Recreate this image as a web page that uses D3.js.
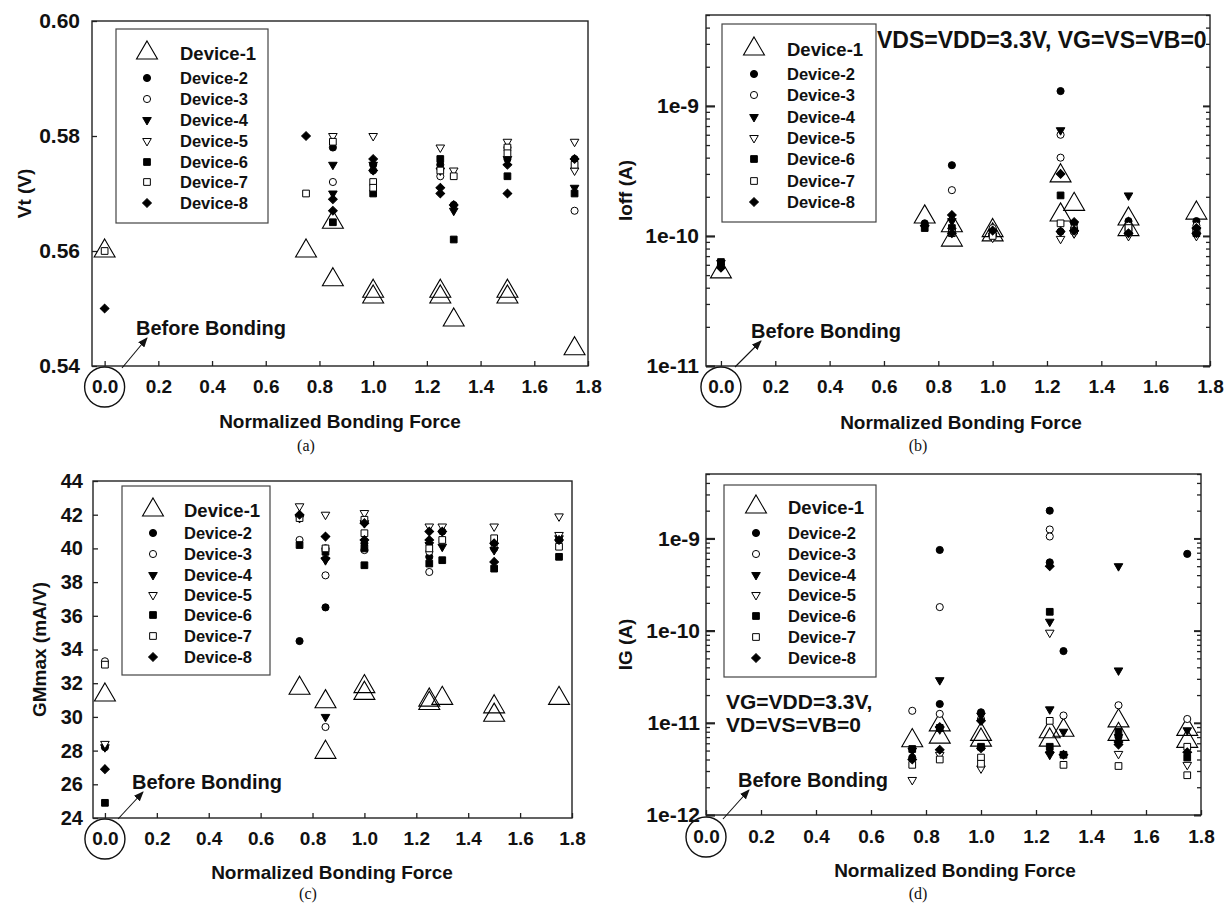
<!DOCTYPE html>
<html>
<head>
<meta charset="utf-8">
<script src="https://cdn.jsdelivr.net/npm/d3@7"></script>
<style>
  body { margin: 0; background: #fff; }
  svg { display: block; }
  text { font-family: "Liberation Sans", Arial, sans-serif; font-weight: bold; fill: #111; }
</style>
</head>
<body>
<svg id="chart" width="1226" height="904"></svg>
<script>
const devices = ['Device-1', 'Device-2', 'Device-3', 'Device-4', 'Device-5', 'Device-6', 'Device-7', 'Device-8']
const xTicks = [0, 0.2, 0.4, 0.6, 0.8, 1.0, 1.2, 1.4, 1.6, 1.8]
const vtTicks = [0.54, 0.56, 0.58, 0.60]
const ioffTicks = [1e-11, 1e-10, 1e-9]
const gmTicks = [24, 26, 28, 30, 32, 34, 36, 38, 40, 42, 44]
const igTicks = [1e-12, 1e-11, 1e-10, 1e-9]

// (a) Vt (V), [normalized bonding force, value]
const vt1 = [[0, 0.560], [0.75, 0.560], [0.85, 0.565], [0.85, 0.555], [1.0, 0.553], [1.0, 0.552], [1.25, 0.553], [1.25, 0.552], [1.3, 0.548], [1.5, 0.553], [1.5, 0.552], [1.75, 0.543]]
const vt2 = [[0.85, 0.578], [1.0, 0.575], [1.25, 0.575], [1.3, 0.568], [1.5, 0.576], [1.75, 0.576]]
const vt3 = [[0.85, 0.572], [1.0, 0.574], [1.25, 0.573], [1.5, 0.578], [1.75, 0.567]]
const vt4 = [[0.85, 0.575], [0.85, 0.570], [1.0, 0.575], [1.25, 0.574], [1.3, 0.567], [1.5, 0.576], [1.75, 0.571]]
const vt5 = [[0.85, 0.580], [1.0, 0.580], [1.25, 0.578], [1.3, 0.574], [1.5, 0.579], [1.75, 0.579], [1.75, 0.574]]
const vt6 = [[0.85, 0.565], [1.0, 0.570], [1.25, 0.576], [1.3, 0.562], [1.5, 0.573], [1.75, 0.570]]
const vt7 = [[0, 0.560], [0.75, 0.570], [0.85, 0.579], [1.0, 0.572], [1.0, 0.571], [1.25, 0.574], [1.3, 0.573], [1.5, 0.578], [1.5, 0.577], [1.75, 0.575]]
const vt8 = [[0, 0.550], [0.75, 0.580], [0.85, 0.569], [0.85, 0.567], [1.0, 0.576], [1.0, 0.574], [1.25, 0.571], [1.25, 0.570], [1.3, 0.568], [1.5, 0.575], [1.5, 0.570], [1.75, 0.576]]

// (b) Ioff (A)
const ioff1 = [[0, 5.3e-11], [0.75, 1.4e-10], [0.85, 1.2e-10], [0.85, 0.93e-10], [1.0, 1.1e-10], [1.0, 1.02e-10], [1.25, 2.9e-10], [1.25, 1.45e-10], [1.3, 1.75e-10], [1.5, 1.35e-10], [1.5, 1.12e-10], [1.75, 1.5e-10]]
const ioff2 = [[0, 5.9e-11], [0.75, 1.25e-10], [0.85, 3.5e-10], [1.0, 1.12e-10], [1.25, 1.3e-9], [1.25, 1.08e-10], [1.3, 1.25e-10], [1.5, 1.3e-10], [1.5, 1.05e-10], [1.75, 1.3e-10]]
const ioff3 = [[0, 6.0e-11], [0.85, 2.25e-10], [1.0, 1.15e-10], [1.25, 6.0e-10], [1.25, 4.0e-10], [1.3, 1.15e-10], [1.5, 1.2e-10], [1.75, 1.2e-10]]
const ioff4 = [[0, 6.2e-11], [0.85, 1.3e-10], [1.0, 1.0e-10], [1.25, 6.5e-10], [1.3, 1.05e-10], [1.5, 2.05e-10], [1.75, 1.1e-10]]
const ioff5 = [[0.85, 1.1e-10], [1.0, 0.97e-10], [1.25, 0.95e-10], [1.3, 1.05e-10], [1.5, 1.0e-10], [1.75, 1.0e-10]]
const ioff6 = [[0, 6.3e-11], [0.75, 1.15e-10], [0.85, 1.15e-10], [1.0, 1.05e-10], [1.25, 2.05e-10], [1.5, 1.1e-10], [1.75, 1.05e-10]]
const ioff7 = [[0.85, 1.05e-10], [1.0, 1.0e-10], [1.25, 1.25e-10], [1.3, 1.1e-10], [1.5, 1.15e-10], [1.75, 1.1e-10]]
const ioff8 = [[0, 5.7e-11], [0.75, 1.2e-10], [0.85, 1.45e-10], [0.85, 1.05e-10], [1.0, 1.1e-10], [1.25, 3.0e-10], [1.25, 1.08e-10], [1.3, 1.28e-10], [1.3, 1.1e-10], [1.5, 1.05e-10], [1.75, 1.15e-10], [1.75, 1.05e-10]]

// (c) GMmax (mA/V)
const gm1 = [[0, 31.3], [0.75, 31.7], [0.85, 30.9], [0.85, 27.9], [1.0, 31.8], [1.0, 31.4], [1.25, 31.0], [1.25, 30.8], [1.3, 31.1], [1.5, 30.6], [1.5, 30.1], [1.75, 31.1]]
const gm2 = [[0, 28.2], [0.75, 34.5], [0.85, 36.5], [0.85, 40.0], [1.0, 40.3], [1.25, 39.5], [1.3, 41.0], [1.5, 40.3], [1.75, 40.5]]
const gm3 = [[0, 33.3], [0.75, 40.5], [0.85, 38.4], [0.85, 29.4], [1.0, 39.9], [1.25, 38.6], [1.25, 39.8], [1.5, 40.0], [1.75, 40.5]]
const gm4 = [[0, 28.2], [0.75, 41.8], [0.85, 39.3], [0.85, 30.0], [1.0, 41.5], [1.25, 40.2], [1.3, 40.1], [1.5, 39.9], [1.75, 40.6]]
const gm5 = [[0, 28.4], [0.75, 42.5], [0.85, 42.0], [1.0, 42.1], [1.25, 41.3], [1.3, 41.3], [1.5, 41.3], [1.75, 41.9], [1.75, 40.8]]
const gm6 = [[0, 24.9], [0.75, 40.2], [0.85, 39.8], [1.0, 40.0], [1.0, 39.0], [1.25, 39.1], [1.3, 39.3], [1.5, 38.8], [1.75, 39.5]]
const gm7 = [[0, 33.1], [0.75, 41.8], [0.85, 40.0], [1.0, 41.7], [1.0, 40.9], [1.25, 40.0], [1.3, 40.5], [1.5, 40.6], [1.75, 40.1]]
const gm8 = [[0, 26.9], [0.75, 42.0], [0.85, 40.7], [0.85, 39.4], [1.0, 41.5], [1.0, 40.5], [1.25, 41.0], [1.25, 40.5], [1.3, 41.0], [1.5, 40.3], [1.5, 39.2], [1.75, 40.5]]

// (d) IG (A)
const ig1 = [[0.75, 6.4e-12], [0.85, 9.5e-12], [0.85, 7.0e-12], [1.0, 7.5e-12], [1.0, 6.5e-12], [1.25, 8.0e-12], [1.25, 6.5e-12], [1.3, 8.3e-12], [1.5, 1.05e-11], [1.5, 7.5e-12], [1.75, 8.5e-12], [1.75, 6.3e-12]]
const ig2 = [[0.75, 4.2e-12], [0.85, 7.5e-10], [0.85, 1.6e-11], [1.0, 1.3e-11], [1.25, 2.0e-9], [1.25, 5.5e-10], [1.3, 6.0e-11], [1.5, 7.0e-12], [1.75, 6.8e-10]]
const ig3 = [[0.75, 1.35e-11], [0.85, 1.8e-10], [0.85, 1.25e-11], [1.0, 1.1e-11], [1.25, 1.25e-9], [1.25, 1.05e-9], [1.3, 1.2e-11], [1.5, 1.55e-11], [1.75, 1.1e-11]]
const ig4 = [[0.75, 5.0e-12], [0.85, 2.9e-11], [0.85, 8.5e-12], [1.0, 1.2e-11], [1.25, 1.25e-10], [1.25, 1.4e-11], [1.25, 4.5e-12], [1.3, 8.0e-12], [1.5, 5.0e-10], [1.5, 3.7e-11], [1.5, 7.0e-12], [1.75, 8.3e-12]]
const ig5 = [[0.75, 2.4e-12], [0.85, 4.5e-12], [1.0, 3.2e-12], [1.25, 9.5e-11], [1.5, 4.6e-12], [1.75, 3.5e-12]]
const ig6 = [[0.75, 5.2e-12], [0.85, 8.8e-12], [1.0, 5.5e-12], [1.25, 1.6e-10], [1.25, 5.5e-12], [1.3, 4.5e-12], [1.5, 8.0e-12], [1.75, 4.2e-12]]
const ig7 = [[0.75, 3.5e-12], [0.85, 4.0e-12], [1.0, 4.2e-12], [1.0, 3.6e-12], [1.25, 1.05e-11], [1.3, 3.5e-12], [1.5, 3.4e-12], [1.75, 5.5e-12], [1.75, 2.7e-12]]
const ig8 = [[0.75, 4.0e-12], [0.85, 5.1e-12], [0.85, 9.0e-12], [1.0, 1.05e-11], [1.0, 5.3e-12], [1.25, 5.0e-10], [1.25, 4.8e-12], [1.3, 4.5e-12], [1.5, 6.2e-12], [1.5, 5.8e-12], [1.75, 4.8e-12]]

// marker style for each device
const markers = [
  { type: d3.symbolTriangle, size: 190, fill: 'none', rot: 0 },
  { type: d3.symbolCircle, size: 40, fill: '#000', rot: 0 },
  { type: d3.symbolCircle, size: 40, fill: '#fff', rot: 0 },
  { type: d3.symbolTriangle, size: 32, fill: '#000', rot: 180 },
  { type: d3.symbolTriangle, size: 32, fill: '#fff', rot: 180 },
  { type: d3.symbolSquare, size: 45, fill: '#000', rot: 0 },
  { type: d3.symbolSquare, size: 45, fill: '#fff', rot: 0 },
  { type: d3.symbolSquare, size: 38, fill: '#000', rot: 45 }
]

const svg = d3.select('#chart')

svg.append('defs').append('marker')
    .attr('id', 'arrow')
    .attr('markerUnits', 'userSpaceOnUse')
    .attr('markerWidth', 10).attr('markerHeight', 8)
    .attr('refX', 9).attr('refY', 4)
    .attr('orient', 'auto')
  .append('path')
    .attr('d', 'M0,0 L10,4 L0,8 Z')
    .attr('fill', '#111')

function styleAxis(sel, size) {
  sel.attr('font-size', null).attr('font-family', null)
  sel.select('.domain').remove()
  sel.selectAll('line').attr('stroke', '#222').attr('stroke-width', 1.3)
  sel.selectAll('text')
    .attr('font-size', size)
    .attr('fill', '#111')
}

const isDecade = v => Math.abs(Math.log10(v) - Math.round(Math.log10(v))) < 1e-6

function drawPanel(p) {
  const g = svg.append('g')
  const [left, right] = p.x.range()
  const [bottom, top] = p.y.range()

  // x axis, ticks pointing inward
  const xa = g.append('g')
    .attr('transform', `translate(0,${bottom})`)
    .call(d3.axisBottom(p.x).tickValues(xTicks).tickSize(-5).tickPadding(p.xPad).tickFormat(d3.format('.1f')))
  styleAxis(xa, 19)

  // y axis
  if (p.log) {
    const minors = p.y.ticks().filter(v => !isDecade(v))
    const fmt = v => '1e' + Math.round(Math.log10(v))
    const ya = g.append('g')
      .attr('transform', `translate(${left},0)`)
      .call(d3.axisLeft(p.y).tickValues(p.yTicks).tickSize(-9).tickPadding(p.yPad).tickFormat(fmt))
    styleAxis(ya, 21)
    ya.selectAll('line').attr('stroke-width', 2.2)
    const ym = g.append('g')
      .attr('transform', `translate(${left},0)`)
      .call(d3.axisLeft(p.y).tickValues(minors).tickSize(-4).tickFormat(''))
    styleAxis(ym, 20)
    const yr = g.append('g')
      .attr('transform', `translate(${right},0)`)
      .call(d3.axisRight(p.y).tickValues(p.yTicks).tickSize(-7).tickFormat(''))
    styleAxis(yr, 20)
    yr.selectAll('line').attr('stroke-width', 2)
    const yrm = g.append('g')
      .attr('transform', `translate(${right},0)`)
      .call(d3.axisRight(p.y).tickValues(minors).tickSize(-4).tickFormat(''))
    styleAxis(yrm, 20)
  } else {
    const ya = g.append('g')
      .attr('transform', `translate(${left},0)`)
      .call(d3.axisLeft(p.y).tickValues(p.yTicks).tickSize(-5).tickPadding(p.yPad).tickFormat(p.yFormat))
    styleAxis(ya, p.yFont || 21)
  }

  // frame
  g.append('rect')
    .attr('x', left).attr('y', top)
    .attr('width', right - left).attr('height', bottom - top)
    .attr('fill', 'none').attr('stroke', '#222').attr('stroke-width', 1.4)

  // points, device-1 first so the small markers sit on top
  p.series.forEach((pts, i) => {
    const m = markers[i]
    g.append('g').selectAll('path')
      .data(pts)
      .join('path')
        .attr('d', d3.symbol(m.type, m.size))
        .attr('transform', d => `translate(${p.x(d[0])},${p.y(d[1])}) rotate(${m.rot})`)
        .attr('fill', m.fill)
        .attr('stroke', '#000')
        .attr('stroke-width', i === 0 ? 1.1 : 1)
  })

  // legend
  const L = p.legend
  g.append('rect')
    .attr('x', L.x).attr('y', L.y).attr('width', L.w).attr('height', L.h)
    .attr('fill', '#fff').attr('stroke', '#444').attr('stroke-width', 1.2)
  devices.forEach((name, i) => {
    const m = markers[i]
    const ry = L.rows[i]
    g.append('path')
      .attr('d', d3.symbol(m.type, m.size))
      .attr('transform', `translate(${L.symX},${ry}) rotate(${m.rot})`)
      .attr('fill', m.fill).attr('stroke', '#000').attr('stroke-width', i === 0 ? 1.1 : 1)
    g.append('text')
      .attr('x', L.textX).attr('y', ry).attr('dy', '0.36em')
      .attr('font-size', i === 0 ? 18.5 : 16.5)
      .text(name)
  })

  // axis titles
  g.append('text')
    .attr('transform', `translate(${p.yTitleX},${(top + bottom) / 2}) rotate(-90)`)
    .attr('text-anchor', 'middle').attr('dy', '0.35em')
    .attr('font-size', 19)
    .text(p.yTitle)
  g.append('text')
    .attr('x', p.xTitleX).attr('y', p.xTitleY)
    .attr('text-anchor', 'middle')
    .attr('font-size', 19)
    .text('Normalized Bonding Force')
  g.append('text')
    .attr('x', p.tagX).attr('y', p.tagY)
    .attr('text-anchor', 'middle')
    .style('font-family', '"Liberation Serif", "Times New Roman", serif')
    .style('font-weight', 'normal')
    .attr('font-size', 16)
    .text(p.tag)

  // "Before Bonding" callout
  g.append('circle')
    .attr('cx', p.x(0)).attr('cy', bottom + p.xPad + 7)
    .attr('r', 20)
    .attr('fill', 'none').attr('stroke', '#111').attr('stroke-width', 1.4)
  g.append('line')
    .attr('x1', p.arrow[0]).attr('y1', p.arrow[1])
    .attr('x2', p.arrow[2]).attr('y2', p.arrow[3])
    .attr('stroke', '#111').attr('stroke-width', 1.1)
    .attr('marker-end', 'url(#arrow)')
  g.append('text')
    .attr('x', p.noteX).attr('y', p.noteY)
    .attr('font-size', 20)
    .text('Before Bonding')

  ;(p.extra || []).forEach(t => {
    g.append('text').attr('x', t.x).attr('y', t.y).attr('font-size', t.size).text(t.text)
  })
}

drawPanel({
  x: d3.scaleLinear().domain([-0.047, 1.8]).range([92, 588]),
  y: d3.scaleLinear().domain([0.54, 0.60]).range([366, 21]),
  yTicks: vtTicks, yFormat: d3.format('.2f'), yPad: 12, xPad: 14,
  series: [vt1, vt2, vt3, vt4, vt5, vt6, vt7, vt8],
  yTitle: 'Vt (V)', yTitleX: 24,
  xTitleX: 340, xTitleY: 428, tag: '(a)', tagX: 306, tagY: 451,
  legend: { x: 116, y: 29, w: 152, h: 194, symX: 147, textX: 180, rows: [53, 78, 99, 120, 141, 162, 182, 203] },
  arrow: [122, 368, 147, 338], noteX: 136, noteY: 335
})

drawPanel({
  x: d3.scaleLinear().domain([-0.055, 1.8]).range([706, 1210]),
  y: d3.scaleLog().domain([1e-11, 5e-9]).range([366, 15]),
  log: true, yTicks: ioffTicks, yPad: 7, xPad: 14,
  series: [ioff1, ioff2, ioff3, ioff4, ioff5, ioff6, ioff7, ioff8],
  yTitle: 'Ioff (A)', yTitleX: 625,
  xTitleX: 961, xTitleY: 429, tag: '(b)', tagX: 918, tagY: 451,
  legend: { x: 722, y: 24, w: 154, h: 198, symX: 754, textX: 787, rows: [49, 74, 95, 117, 138, 159, 181, 202] },
  arrow: [735, 367, 761, 341], noteX: 751, noteY: 338,
  extra: [{ x: 877, y: 48, size: 23, text: 'VDS=VDD=3.3V, VG=VS=VB=0' }]
})

drawPanel({
  x: d3.scaleLinear().domain([-0.046, 1.8]).range([93, 572]),
  y: d3.scaleLinear().domain([24, 44]).range([818, 481]),
  yTicks: gmTicks, yFormat: d3.format('d'), yPad: 10, xPad: 14, yFont: 20,
  series: [gm1, gm2, gm3, gm4, gm5, gm6, gm7, gm8],
  yTitle: 'GMmax (mA/V)', yTitleX: 39,
  xTitleX: 332, xTitleY: 879, tag: '(c)', tagX: 308, tagY: 899,
  legend: { x: 122, y: 486, w: 148, h: 189, symX: 153, textX: 184, rows: [510, 533, 554, 575, 595, 615, 636, 657] },
  arrow: [118, 819, 143, 792], noteX: 132, noteY: 789
})

drawPanel({
  x: d3.scaleLinear().domain([0, 1.8]).range([706, 1201]),
  y: d3.scaleLog().domain([1e-12, 5e-9]).range([815, 474]),
  log: true, yTicks: igTicks, yPad: 6, xPad: 15,
  series: [ig1, ig2, ig3, ig4, ig5, ig6, ig7, ig8],
  yTitle: 'IG (A)', yTitleX: 625,
  xTitleX: 955, xTitleY: 877, tag: '(d)', tagX: 918, tagY: 899,
  legend: { x: 724, y: 485, w: 152, h: 192, symX: 756, textX: 788, rows: [507, 533, 554, 575, 595, 616, 637, 658] },
  arrow: [723, 819, 749, 790], noteX: 738, noteY: 787,
  extra: [
    { x: 726, y: 709, size: 21, text: 'VG=VDD=3.3V,' },
    { x: 726, y: 732, size: 21, text: 'VD=VS=VB=0' }
  ]
})
</script>
</body>
</html>
